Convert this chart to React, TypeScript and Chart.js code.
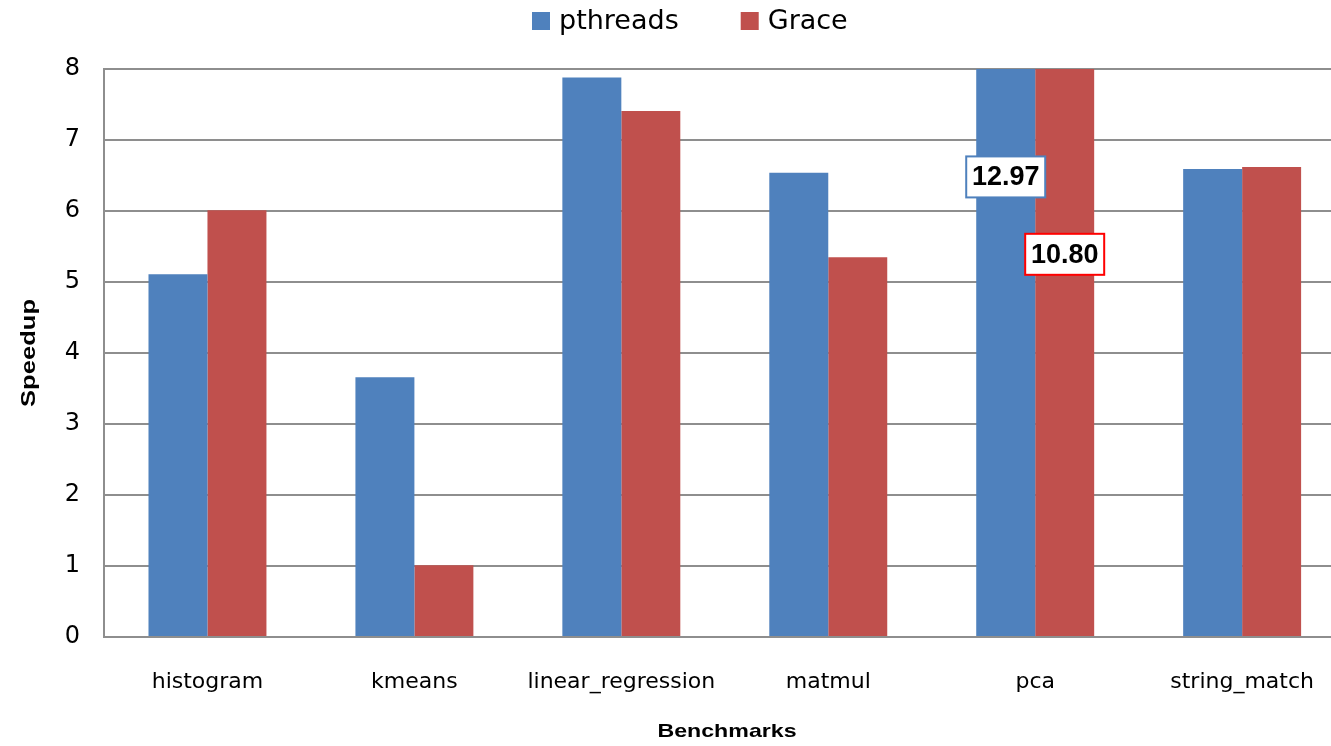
import React, { useEffect, useRef } from "react";
import { Chart, registerables } from "chart.js";

Chart.register(...registerables);

const categories = ["histogram", "kmeans", "linear_regression", "matmul", "pca", "string_match"];
const pthreadsValues = [5.11, 3.66, 7.88, 6.54, 12.97, 6.59];
const graceValues = [6.01, 1.01, 7.41, 5.35, 10.8, 6.62];
const seriesNames = ["pthreads", "Grace"];
const seriesColors = ["#4f81bd", "#c0504d"];
const labelBorderColors = ["#4f81bd", "#ff0000"];
const overflowLabelY = [6.48, 5.39];
const yTicks = [0, 1, 2, 3, 4, 5, 6, 7, 8];
const xTitle = "Benchmarks";
const yTitle = "Speedup";

const GRID = "#8e8e8e";

const legendPlugin = {
  id: "customLegend",
  afterDraw(chart: any) {
    const ctx = chart.ctx;
    ctx.save();
    ctx.font = "27px 'DejaVu Sans'";
    ctx.textBaseline = "middle";
    ctx.textAlign = "left";
    let x = 532;
    const y = 22;
    chart.data.datasets.forEach((ds: any) => {
      ctx.fillStyle = ds.backgroundColor;
      ctx.fillRect(x, y - 10, 18, 18);
      ctx.fillStyle = "#000";
      ctx.fillText(ds.label, x + 27, y);
      x += 27 + ctx.measureText(ds.label).width + 62;
    });
    ctx.restore();
  },
};

const axisTitlePlugin = {
  id: "stretchedTitles",
  afterDraw(chart: any) {
    const ctx = chart.ctx;
    const area = chart.chartArea;
    ctx.save();
    ctx.fillStyle = "#000";
    ctx.textAlign = "center";
    ctx.textBaseline = "middle";
    // x title
    ctx.save();
    ctx.font = "bold 19px 'Liberation Sans'";
    ctx.translate(727, 732);
    ctx.scale(1.22, 1);
    ctx.fillText(xTitle, 0, 0);
    ctx.restore();
    // y title
    ctx.save();
    ctx.font = "bold 20px 'Liberation Sans'";
    ctx.translate(29, (area.top + area.bottom) / 2);
    ctx.rotate(-Math.PI / 2);
    ctx.scale(1.28, 1);
    ctx.fillText(yTitle, 0, 0);
    ctx.restore();
    ctx.restore();
  },
};

const overflowPlugin = {
  id: "overflowLabels",
  afterDatasetsDraw(chart: any) {
    const ctx = chart.ctx;
    const yScale = chart.scales.y;
    const max = yScale.max;
    ctx.save();
    chart.data.datasets.forEach((ds: any, di: number) => {
      const meta = chart.getDatasetMeta(di);
      ds.data.forEach((v: number, i: number) => {
        if (v <= max) return;
        const bar = meta.data[i];
        const cx = bar.x;
        const cy = yScale.getPixelForValue(overflowLabelY[di]);
        const w = 79;
        const h = 41;
        ctx.fillStyle = "#fff";
        ctx.fillRect(cx - w / 2, cy - h / 2, w, h);
        ctx.strokeStyle = labelBorderColors[di];
        ctx.lineWidth = 2;
        ctx.strokeRect(cx - w / 2, cy - h / 2, w, h);
        ctx.fillStyle = "#000";
        ctx.font = "bold 27px 'Liberation Sans'";
        ctx.textAlign = "center";
        ctx.textBaseline = "middle";
        ctx.fillText(v.toFixed(2), cx, cy + 1);
      });
    });
    ctx.restore();
  },
};

export default function App() {
  const ref = useRef<HTMLCanvasElement>(null);
  useEffect(() => {
    document.body.style.margin = "0";
    const chart = new Chart(ref.current!, {
      type: "bar",
      data: {
        labels: categories,
        datasets: [
          { label: seriesNames[0], data: pthreadsValues, backgroundColor: seriesColors[0] },
          { label: seriesNames[1], data: graceValues, backgroundColor: seriesColors[1] },
        ],
      },
      options: {
        responsive: false,
        animation: false,
        layout: { padding: { top: 69, left: 0, right: 0, bottom: 0 } },
        datasets: { bar: { categoryPercentage: 0.57, barPercentage: 1 } },
        plugins: {
          legend: { display: false },
          tooltip: { enabled: false },
        },
        scales: {
          x: {
            grid: { display: false, drawTicks: false },
            border: { display: true, color: GRID, width: 2 },
            ticks: { color: "#000", font: { family: "'DejaVu Sans'", size: 22 }, padding: 32, maxRotation: 0 },
            title: { display: false },
            afterFit: (s: any) => { s.height = 109; },
          },
          y: {
            min: 0,
            max: 8,
            afterBuildTicks: (s: any) => { s.ticks = yTicks.map((v) => ({ value: v })); },
            grid: { color: GRID, lineWidth: 2, drawTicks: false },
            border: { display: true, color: GRID, width: 2 },
            ticks: { color: "#000", font: { family: "'DejaVu Sans'", size: 24 }, padding: 24 },
            title: { display: false },
            afterFit: (s: any) => { s.width = 104; },
          },
        },
      } as any,
      plugins: [legendPlugin, overflowPlugin, axisTitlePlugin],
    });
    return () => chart.destroy();
  }, []);
  return (
    <div style={{ width: 1331, height: 746, overflow: "hidden" }}>
      <canvas ref={ref} width={1346} height={746} style={{ display: "block" }} />
    </div>
  );
}
